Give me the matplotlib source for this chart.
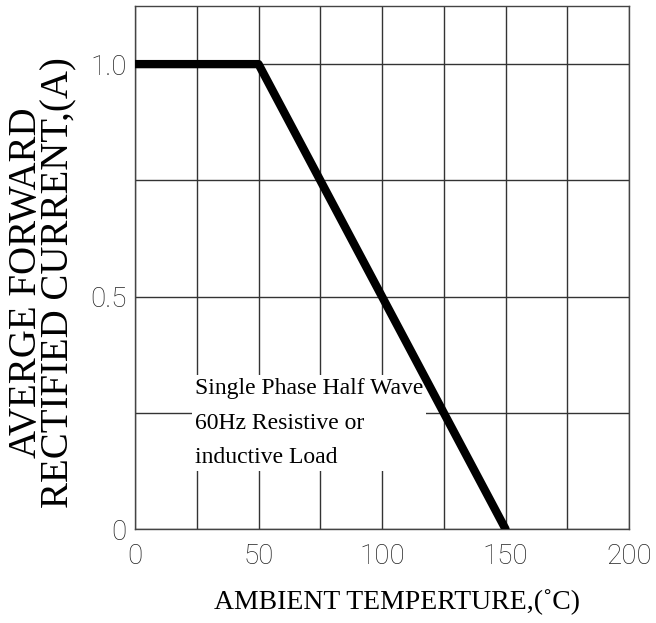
import matplotlib
matplotlib.use("Agg")
import matplotlib.pyplot as plt

# derating curve
temp = [0, 50, 150]
current = [1.0, 1.0, 0.0]

xticks = [0, 50, 100, 150, 200]
yticks = [0, 0.5, 1.0]
ytick_labels = ['0', '0.5', '1.0']
xgrid = [0, 25, 50, 75, 100, 125, 150, 175, 200]
ygrid = [0, 0.25, 0.5, 0.75, 1.0]

sans = ['Roboto', 'DejaVu Sans']
serif = ['Liberation Serif', 'DejaVu Serif']

fig = plt.figure(figsize=(6.56, 6.23), dpi=100)
ax = fig.add_axes([135/656, 1 - 529/623, 494/656, 523/623])

for x in xgrid:
    ax.axvline(x, color='#333333', lw=1.0, zorder=1)
for y in ygrid:
    ax.axhline(y, color='#333333', lw=1.0, zorder=1)

ax.plot(temp, current, color='black', lw=6, solid_capstyle='round',
        solid_joinstyle='round', zorder=4)

ax.set_xlim(0, 200)
ax.set_ylim(0, 1.125)
ax.set_xticks(xticks)
ax.set_xticklabels([str(v) for v in xticks], family=sans, fontsize=20,
                   fontweight='light', fontstretch='condensed', color='#222222')
ax.set_yticks(yticks)
ax.set_yticklabels(ytick_labels, family=sans, fontsize=20,
                   fontweight='light', fontstretch='condensed', color='#222222')
ax.tick_params(length=0, pad=6)
ax.tick_params(axis='x', pad=10)
for s in ax.spines.values():
    s.set_color('#444444')
    s.set_linewidth(1.0)

ax.text(24.3, 0.325, 'Single Phase Half Wave\n60Hz Resistive or\ninductive Load',
        family=serif, fontsize=17, va='top', ha='left', linespacing=1.85,
        bbox=dict(facecolor='white', edgecolor='none', pad=2), zorder=3)

fig.text(43/656, 1 - 283/623, 'AVERGE FORWARD\nRECTIFIED CURRENT,(A)',
         family=serif, fontsize=28, rotation=90, ha='center', va='center',
         linespacing=0.85)
fig.text(397/656, 1 - 602/623, 'AMBIENT TEMPERTURE,(˚C)',
         family=serif, fontsize=20, ha='center', va='center')

plt.savefig('out.png', dpi=100)
plt.close(fig)
